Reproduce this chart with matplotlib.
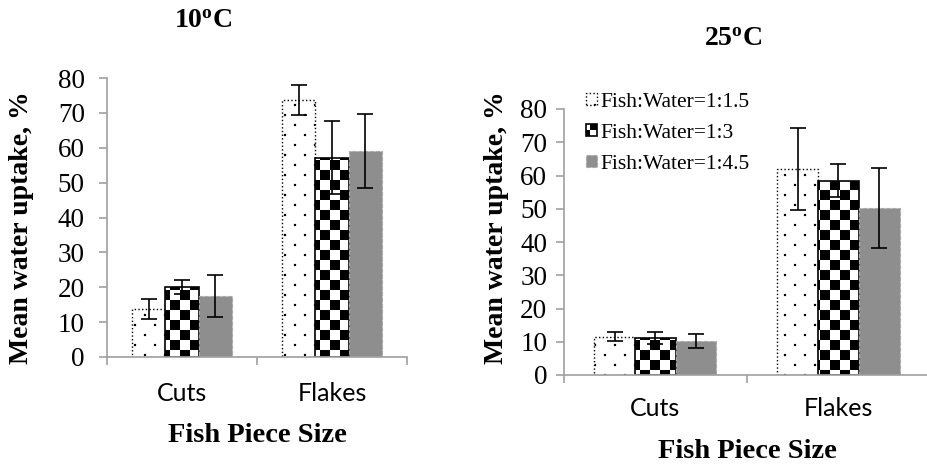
import numpy as np
import matplotlib
matplotlib.use('Agg')
import matplotlib.pyplot as plt
import matplotlib.hatch as mhatch
from matplotlib.path import Path

# values
categories = ['Cuts', 'Flakes']
series_labels = ['Fish:Water=1:1.5', 'Fish:Water=1:3', 'Fish:Water=1:4.5']

uptake_10C_15 = [13.8, 73.8]
err_10C_15 = [2.9, 4.3]
uptake_10C_3 = [20.1, 57.2]
err_10C_3 = [2.1, 10.6]
uptake_10C_45 = [17.6, 59.1]
err_10C_45 = [6.0, 10.5]

uptake_25C_15 = [11.5, 62.0]
err_25C_15 = [1.4, 12.4]
uptake_25C_3 = [11.2, 58.4]
err_25C_3 = [1.8, 5.0]
uptake_25C_45 = [10.3, 50.3]
err_25C_45 = [2.1, 12.1]

yticks = np.arange(0, 81, 10)


# Excel-like fill patterns: sparse dots and a checkerboard
class DotHatch(mhatch.HatchPatternBase):
    def __init__(self, hatch, density):
        self.n = 10 if '.' in hatch else 0
        self.num_vertices = self.n * self.n // 2 * 5

    def set_vertices_and_codes(self, vertices, codes):
        n = self.n
        s = 0.11 / n
        k = 0
        for i in range(n):
            for j in range(n):
                if (i + j) % 2 == 0:
                    cx, cy = (i + 0.5) / n, (j + 0.5) / n
                    vertices[k:k + 5] = [(cx - s, cy - s), (cx + s, cy - s), (cx + s, cy + s),
                                         (cx - s, cy + s), (cx - s, cy - s)]
                    codes[k:k + 5] = [Path.MOVETO, Path.LINETO, Path.LINETO, Path.LINETO, Path.CLOSEPOLY]
                    k += 5


class CheckerHatch(mhatch.HatchPatternBase):
    def __init__(self, hatch, density):
        self.n = 10 if '+' in hatch else 0
        self.num_vertices = self.n * self.n // 2 * 5

    def set_vertices_and_codes(self, vertices, codes):
        n = self.n
        k = 0
        for i in range(n):
            for j in range(n):
                if (i + j) % 2 == 0:
                    x0, y0 = i / n, j / n
                    x1, y1 = (i + 1) / n, (j + 1) / n
                    vertices[k:k + 5] = [(x0, y0), (x1, y0), (x1, y1), (x0, y1), (x0, y0)]
                    codes[k:k + 5] = [Path.MOVETO, Path.LINETO, Path.LINETO, Path.LINETO, Path.CLOSEPOLY]
                    k += 5


mhatch._hatch_types = [DotHatch, CheckerHatch]
plt.rcParams['hatch.linewidth'] = 0.0
plt.rcParams['mathtext.fontset'] = 'custom'
plt.rcParams['mathtext.rm'] = 'Liberation Serif'
plt.rcParams['mathtext.bf'] = 'Liberation Serif:bold'

SERIF = 'Liberation Serif'
SANS = 'Lato'
AXCOL = '#a0a0a0'

W, H = 928, 467
fig = plt.figure(figsize=(W / 100, H / 100), dpi=100)


def px(x0, y0, x1, y1):
    # axes rectangle from pixel corners (top-left origin)
    return [x0 / W, 1 - y1 / H, (x1 - x0) / W, (y1 - y0) / H]


styles = [
    dict(facecolor='white', edgecolor='black', hatch='.', linestyle=':', linewidth=1.0),
    dict(facecolor='white', edgecolor='black', hatch='+', linestyle='-', linewidth=1.2),
    dict(facecolor='#8e8e8e', edgecolor='#a8a8a8', linestyle='--', linewidth=0.8),
]


def panel(rect, data, errs, ylabpad, xlabpad):
    ax = fig.add_axes(rect)
    x = np.arange(len(categories))
    w = 2 / 9
    for k in range(3):
        pos = x + (k - 1) * w
        ax.bar(pos, data[k], width=w, label=series_labels[k], zorder=2, **styles[k])
        ax.errorbar(pos, data[k], yerr=errs[k], fmt='none', ecolor='black',
                    elinewidth=1.2, capsize=6, capthick=1.2, zorder=3)
    ax.set_xlim(-0.5, 1.5)
    ax.set_ylim(0, 80)
    ax.set_yticks(yticks)
    ax.set_xticks([-0.5, 0.5, 1.5])
    ax.set_xticklabels([])
    ax.set_xticks(x, minor=True)
    ax.set_xticklabels(categories, minor=True, fontfamily=SANS, fontsize=18)
    for s in ['top', 'right']:
        ax.spines[s].set_visible(False)
    for s in ['left', 'bottom']:
        ax.spines[s].set_color(AXCOL)
        ax.spines[s].set_linewidth(1.2)
    ax.tick_params(axis='y', which='major', direction='out', length=6, width=1.2,
                   color=AXCOL, labelsize=19.5, pad=ylabpad)
    ax.tick_params(axis='x', which='major', direction='out', length=6, width=1.2, color=AXCOL)
    ax.tick_params(axis='x', which='minor', length=0, pad=xlabpad)
    for t in ax.get_yticklabels():
        t.set_fontfamily(SERIF)
    ax.patch.set_alpha(0)
    return ax


ax1 = panel(px(107, 78, 407, 357),
            [uptake_10C_15, uptake_10C_3, uptake_10C_45],
            [err_10C_15, err_10C_3, err_10C_45], 10, 18)
ax2 = panel(px(564, 109, 930, 375),
            [uptake_25C_15, uptake_25C_3, uptake_25C_45],
            [err_25C_15, err_25C_3, err_25C_45], 6, 16)

leg = ax2.legend(loc='upper left', bbox_to_anchor=(586 / W, 1 - 93 / H),
                 bbox_transform=fig.transFigure, frameon=False,
                 prop={'family': SERIF, 'size': 15.5}, borderpad=0, borderaxespad=0,
                 handlelength=0.5, handleheight=0.5, handletextpad=0.15, labelspacing=0.55)


def ftext(x, y, s, **kw):
    fig.text(x / W, 1 - y / H, s, ha='center', va='center', **kw)


ftext(203, 20, r'$\mathbf{10^{o}C}$', fontsize=20)
ftext(733, 38, r'$\mathbf{25^{o}C}$', fontsize=20)
ftext(22, 228, 'Mean water uptake, %', rotation=90, fontfamily=SERIF, fontweight='bold', fontsize=20)
ftext(497, 228, 'Mean water uptake, %', rotation=90, fontfamily=SERIF, fontweight='bold', fontsize=20)
ftext(257, 435, 'Fish Piece Size', fontfamily=SERIF, fontweight='bold', fontsize=20.5)
ftext(747, 452, 'Fish Piece Size', fontfamily=SERIF, fontweight='bold', fontsize=20.5)

fig.savefig('out.png', dpi=100)
